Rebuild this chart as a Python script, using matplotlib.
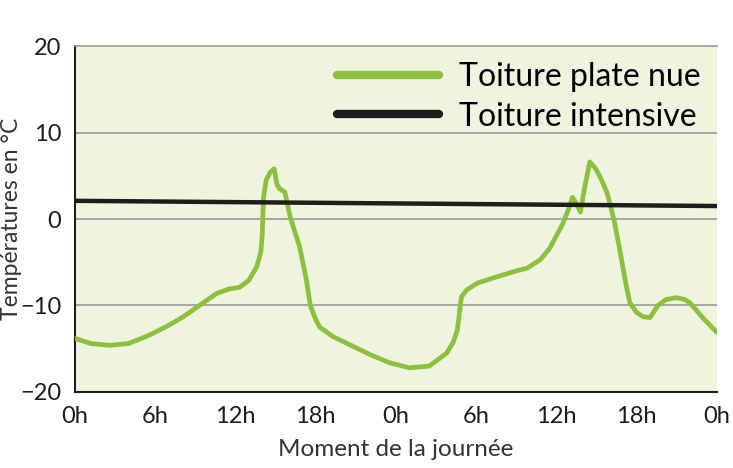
import numpy as np
import matplotlib.pyplot as plt

# hours over two days
hours_nue = [0, 1.2, 2.6, 4.0, 5.6, 7.0, 8.1, 9.4, 10.6, 11.5, 12.3, 13.0, 13.6, 13.9, 14.0,
             14.1, 14.3, 14.6, 14.9, 15.1, 15.3, 15.7, 16.1, 16.8, 17.3, 17.6, 18.0, 18.3,
             19.3, 20.5, 22.1, 23.5, 25.0, 26.5, 27.8, 28.3, 28.6, 28.9, 29.3, 30.1, 31.5,
             33.0, 33.8, 34.8, 35.5, 36.5, 37.0, 37.2, 37.5, 37.8, 38.1, 38.5, 38.9, 39.3,
             39.8, 40.3, 40.7, 41.2, 41.5, 42.0, 42.5, 43.0, 43.6, 44.2, 45.0, 45.6, 46.0,
             47.0, 48.0]
temp_nue = [-13.8, -14.4, -14.6, -14.4, -13.4, -12.3, -11.3, -9.9, -8.6, -8.1, -7.9, -7.1,
            -5.5, -3.8, -2.0, 2.5, 4.5, 5.4, 5.8, 4.0, 3.5, 3.1, 0.2, -3.2, -7.0, -10.0,
            -11.6, -12.5, -13.6, -14.5, -15.7, -16.6, -17.2, -17.0, -15.5, -14.2, -12.8,
            -9.0, -8.2, -7.4, -6.7, -6.0, -5.7, -4.7, -3.4, -0.5, 1.5, 2.5, 1.8, 0.8, 3.5,
            6.6, 5.9, 4.8, 3.0, 0.0, -3.2, -7.5, -9.7, -10.8, -11.3, -11.4, -10.0, -9.3,
            -9.1, -9.3, -9.7, -11.5, -13.1]

hours_int = [0, 12, 24, 36, 48]
temp_int = [2.1, 1.95, 1.8, 1.65, 1.5]

xticks = [0, 6, 12, 18, 24, 30, 36, 42, 48]
xlabels = ["0h", "6h", "12h", "18h", "0h", "6h", "12h", "18h", "0h"]
yticks = [-20, -10, 0, 10, 20]

plt.rcParams["font.family"] = ["Lato", "DejaVu Sans"]

fig = plt.figure(figsize=(7.33, 4.68), dpi=100)
ax = fig.add_axes([0.1023, 0.1624, 0.8756, 0.7393])
ax.set_facecolor("#eef4dd")

for y in [-10, 0, 10]:
    ax.axhline(y, color="#9a9a9a", lw=1.2, zorder=1)

ax.plot(hours_nue, temp_nue, color="#8dc03f", lw=3.4, label="Toiture plate nue",
        solid_joinstyle="round", solid_capstyle="round", zorder=3)
ax.plot(hours_int, temp_int, color="#1d1d1b", lw=3.2, label="Toiture intensive", zorder=3)

ax.set_xlim(0, 48)
ax.set_ylim(-20, 20)
ax.set_xticks(xticks, xlabels)
ax.set_yticks(yticks)
ax.tick_params(length=0, labelsize=17, colors="#1d1d1b", pad=10)
ax.tick_params(axis="y", pad=10)

ax.spines["left"].set_color("#1d1d1b")
ax.spines["bottom"].set_color("#1d1d1b")
ax.spines["left"].set_linewidth(1.5)
ax.spines["bottom"].set_linewidth(1.5)
ax.spines["top"].set_color("#9a9a9a")
ax.spines["top"].set_linewidth(1.2)
ax.spines["right"].set_visible(False)

ax.set_xlabel("Moment de la journée", fontsize=17.5, color="#333333")
ax.set_ylabel("Températures en °C", fontsize=16.5, color="#333333")
ax.xaxis.set_label_coords(0.5, -0.135)
ax.yaxis.set_label_coords(-0.083, 0.5)

leg = ax.legend(loc="upper right", frameon=False, fontsize=23, handlelength=3.2,
                handletextpad=0.62, labelspacing=0.3, borderaxespad=0.2,
                borderpad=0.3)
for line in leg.get_lines():
    line.set_linewidth(6)
    line.set_solid_capstyle("round")

fig.savefig("out.png", dpi=100)
